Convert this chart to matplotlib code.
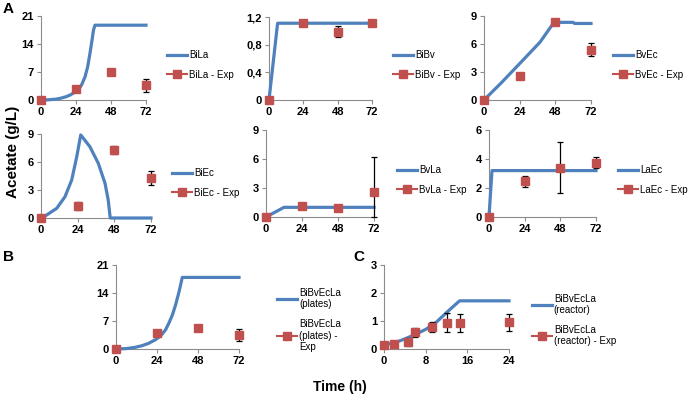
import matplotlib
matplotlib.use("Agg")
import matplotlib.pyplot as plt

plt.rcParams['font.family'] = ['Liberation Sans', 'DejaVu Sans']

BLUE = '#4F81BD'
RED = '#C0504D'

# ---------------- data ----------------
# BiLa
bila_t = [0, 5, 10, 13, 17, 20, 23, 25.6, 28, 30.2, 32, 33.6, 35, 36, 37, 72]
bila_m = [0, 0.05, 0.2, 0.4, 0.8, 1.25, 1.9, 2.5, 3.9, 5.8, 8.3, 11.7, 15.0, 17.5, 18.7, 18.7]
bila_et = [0, 24, 48, 72]
bila_e = [0, 2.7, 7.0, 3.7]
bila_err = [0, 0, 0, 1.6]

# BiBv
bibv_t = [0, 6, 72]
bibv_m = [0, 1.11, 1.11]
bibv_et = [0, 24, 48, 72]
bibv_e = [0, 1.11, 0.99, 1.11]
bibv_err = [0, 0, 0.08, 0]

# BvEc
bvec_t = [0, 12, 24, 37.7, 47, 48, 60, 61, 72]
bvec_m = [0, 1.9, 3.9, 6.2, 8.3, 8.32, 8.32, 8.2, 8.2]
bvec_et = [0, 24, 48, 72]
bvec_e = [0, 2.55, 8.4, 5.4]
bvec_err = [0, 0, 0, 0.7]

# BiEc
biec_t = [0, 3.7, 10.3, 15.7, 20.1, 23.4, 26, 32, 37.5, 41.9, 44, 45.3, 72]
biec_m = [0, 0.32, 1.04, 2.28, 4.07, 6.57, 8.9, 7.64, 5.86, 3.72, 1.93, 0, 0]
biec_et = [0, 24, 48, 72]
biec_e = [0, 1.3, 7.3, 4.3]
biec_err = [0, 0.45, 0.4, 0.75]

# BvLa
bvla_t = [0, 12, 72]
bvla_m = [0, 1.0, 1.0]
bvla_et = [0, 24, 48, 72]
bvla_e = [0, 1.1, 0.95, 2.6]
bvla_err = [0, 0, 0, 3.6]

# LaEc
laec_t = [0, 2, 72]
laec_m = [0, 3.2, 3.2]
laec_et = [0, 24, 48, 72]
laec_e = [0, 2.45, 3.4, 3.75]
laec_err = [0, 0.37, 1.75, 0.4]

# BiBvEcLa (plates)
plates_t = [0, 6, 11, 15, 19, 23, 26, 29, 31, 33, 35, 37, 38.8, 72]
plates_m = [0, 0.1, 0.4, 0.8, 1.4, 2.3, 3.2, 4.8, 6.5, 8.5, 11.2, 14.5, 17.9, 17.9]
plates_et = [0, 24, 48, 72]
plates_e = [0.1, 3.9, 5.3, 3.4]
plates_err = [0, 0, 0, 1.5]

# BiBvEcLa (reactor)
reactor_t = [0, 2, 4, 6, 8, 10, 12, 14.5, 24]
reactor_m = [0.15, 0.22, 0.36, 0.52, 0.7, 0.95, 1.3, 1.72, 1.72]
reactor_et = [0, 2, 4.66, 5.9, 9.25, 12, 14.5, 24]
reactor_e = [0.15, 0.18, 0.25, 0.59, 0.77, 0.93, 0.93, 0.96]
reactor_err = [0.05, 0.05, 0.14, 0.15, 0.18, 0.34, 0.31, 0.3]

W, H = 689, 396
fig = plt.figure(figsize=(W / 100, H / 100), dpi=100)


def make_ax(px, label_m, label_e, t, m, et, e, err, xt, yt, ytl, legx, legy):
    l, r, top, bot = px
    ax = fig.add_axes([l / W, 1 - bot / H, (r - l) / W, (bot - top) / H])
    ax.plot(t, m, color=BLUE, lw=2.3, label=label_m, zorder=3, clip_on=False)
    # error bars stop at the x axis
    lower = [min(er, v - yt[0]) for er, v in zip(err, e)]
    ax.errorbar(et, e, yerr=[lower, err], color=RED, marker='s', ms=6, ls='none',
                ecolor='black', elinewidth=0.9, capsize=2.3, capthick=0.9,
                zorder=4, clip_on=False)
    # legend proxy for Exp
    ax.plot([], [], color=RED, marker='s', ms=6, lw=1.5, label=label_e)
    ax.set_xlim(xt[0], xt[-1])
    ax.set_ylim(yt[0], yt[-1])
    ax.set_xticks(xt)
    ax.set_yticks(yt)
    ax.set_yticklabels(ytl)
    for s in ['top', 'right']:
        ax.spines[s].set_visible(False)
    for s in ['left', 'bottom']:
        ax.spines[s].set_color('#8c8c8c')
        ax.spines[s].set_linewidth(0.8)
    ax.tick_params(direction='out', length=3, width=0.8, color='#8c8c8c',
                   labelsize=8, pad=2)
    for lab in ax.get_xticklabels() + ax.get_yticklabels():
        lab.set_fontweight('bold')
    ax.legend(loc='center left', bbox_to_anchor=(legx / W, 1 - legy / H),
              bbox_transform=fig.transFigure, frameon=False, fontsize=7,
              handlelength=2.1, handletextpad=0.15, labelspacing=1.0,
              borderpad=0, borderaxespad=0)
    return ax


x72 = [0, 24, 48, 72]
make_ax((41, 146, 16, 100), 'BiLa', 'BiLa - Exp', bila_t, bila_m, bila_et, bila_e, bila_err,
        x72, [0, 7, 14, 21], ['0', '7', '14', '21'], 167, 65)
make_ax((269, 372, 17, 100), 'BiBv', 'BiBv - Exp', bibv_t, bibv_m, bibv_et, bibv_e, bibv_err,
        x72, [0, 0.4, 0.8, 1.2], ['0', '0,4', '0,8', '1,2'], 393, 65)
make_ax((484, 591, 16, 100), 'BvEc', 'BvEc - Exp', bvec_t, bvec_m, bvec_et, bvec_e, bvec_err,
        x72, [0, 3, 6, 9], ['0', '3', '6', '9'], 613, 65)
make_ax((41, 151, 134, 218), 'BiEc', 'BiEc - Exp', biec_t, biec_m, biec_et, biec_e, biec_err,
        x72, [0, 3, 6, 9], ['0', '3', '6', '9'], 172, 183)
make_ax((266, 374, 130, 217), 'BvLa', 'BvLa - Exp', bvla_t, bvla_m, bvla_et, bvla_e, bvla_err,
        x72, [0, 3, 6, 9], ['0', '3', '6', '9'], 397, 180)
make_ax((489, 596, 130, 217), 'LaEc', 'LaEc - Exp', laec_t, laec_m, laec_et, laec_e, laec_err,
        x72, [0, 2, 4, 6], ['0', '2', '4', '6'], 618, 180)
make_ax((116, 239, 265, 349), 'BiBvEcLa\n(plates)', 'BiBvEcLa\n(plates) -\nExp',
        plates_t, plates_m, plates_et, plates_e, plates_err,
        x72, [0, 7, 14, 21], ['0', '7', '14', '21'], 277, 320)
make_ax((384, 509, 265, 349), 'BiBvEcLa\n(reactor)', 'BiBvEcLa\n(reactor) - Exp',
        reactor_t, reactor_m, reactor_et, reactor_e, reactor_err,
        [0, 8, 16, 24], [0, 1, 2, 3], ['0', '1', '2', '3'], 532, 320)

fig.text(8 / W, 1 - 9 / H, 'A', fontsize=11, fontweight='bold', ha='center', va='center')
fig.text(8 / W, 1 - 257 / H, 'B', fontsize=11, fontweight='bold', ha='center', va='center')
fig.text(359 / W, 1 - 257 / H, 'C', fontsize=11, fontweight='bold', ha='center', va='center')
fig.text(13 / W, 1 - 152 / H, 'Acetate (g/L)', fontsize=11, fontweight='bold',
         rotation=90, ha='center', va='center')
fig.text(340 / W, 1 - 387 / H, 'Time (h)', fontsize=10, fontweight='bold',
         ha='center', va='center')

fig.savefig('out.png', dpi=100)
